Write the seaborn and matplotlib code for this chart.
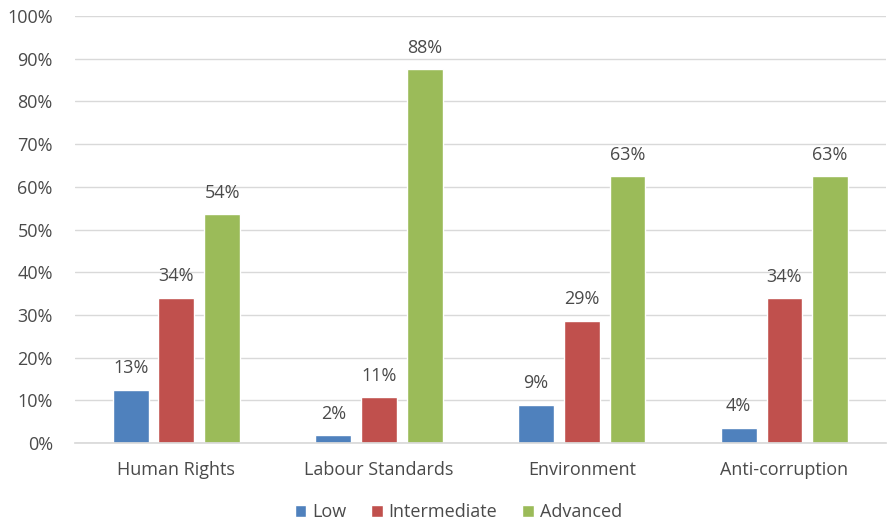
import matplotlib
matplotlib.use("Agg")
import matplotlib.pyplot as plt
import seaborn as sns
import pandas as pd
from matplotlib.patches import Patch

categories = ["Human Rights", "Labour Standards", "Environment", "Anti-corruption"]
series = ["Low", "Intermediate", "Advanced"]
low = [12.5, 1.8, 9.0, 3.6]
intermediate = [34.0, 10.7, 28.6, 33.9]
advanced = [53.6, 87.5, 62.5, 62.5]
labels_low = ["13%", "2%", "9%", "4%"]
labels_int = ["34%", "11%", "29%", "34%"]
labels_adv = ["54%", "88%", "63%", "63%"]
colors = ["#4F81BD", "#C0504D", "#9BBB59"]

rows = []
for vals, s in zip([low, intermediate, advanced], series):
    for c, v in zip(categories, vals):
        rows.append({"category": c, "series": s, "value": v})
df = pd.DataFrame(rows)

sns.set_theme(style="white")
plt.rcParams["font.family"] = ["Open Sans", "DejaVu Sans"]
text_color = "#4A4A4A"

fig = plt.figure(figsize=(8.88, 5.25), dpi=100)
ax = fig.add_axes([0.0845, 0.156, 0.913, 0.8135])

sns.barplot(data=df, x="category", y="value", hue="series", order=categories,
            hue_order=series, palette=colors, width=0.677, gap=0.217,
            saturation=1, ax=ax, legend=False)

all_labels = [labels_low, labels_int, labels_adv]
for cont, labs in zip(ax.containers, all_labels):
    ax.bar_label(cont, labels=labs, padding=9, fontsize=13, color=text_color)

ax.set_ylim(0, 100)
ax.set_yticks(range(0, 101, 10))
ax.set_yticklabels([f"{t}%" for t in range(0, 101, 10)], fontsize=13, color=text_color)
ax.tick_params(axis="x", labelsize=13, labelcolor=text_color, pad=13, length=0)
ax.tick_params(axis="y", pad=16, length=0)
ax.grid(axis="y", color="#D9D9D9", linewidth=1)
ax.set_axisbelow(True)
for s in ["top", "right", "left"]:
    ax.spines[s].set_visible(False)
ax.spines["bottom"].set_color("#D9D9D9")
ax.set_xlabel("")
ax.set_ylabel("")
ax.set_xlim(-0.5, 3.5)

handles = [Patch(facecolor=c, label=s) for c, s in zip(colors, series)]
fig.legend(handles=handles, loc="lower center", bbox_to_anchor=(0.516, -0.024), ncol=3,
           frameon=False, fontsize=13, handlelength=0.65, handleheight=0.65,
           handletextpad=0.3, columnspacing=1.4, labelcolor=text_color)

fig.savefig("out.png", dpi=100)
